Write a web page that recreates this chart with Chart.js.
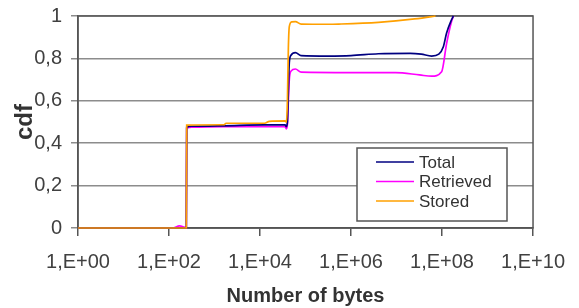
<!DOCTYPE html>
<html lang="en">
<head>
    <meta charset="UTF-8">
    <title>cdf of number of bytes</title>
    <script src="https://cdn.jsdelivr.net/npm/chart.js"></script>
    <style>
        body { margin: 0; background: #fff; }
        #wrap { width: 579px; height: 308px; position: relative; }
    </style>
</head>
<body>
    <div id="wrap"><canvas id="cdfChart"></canvas></div>

    <script>
        // x values in bytes, y values are cdf
        const totalX = [1, 200, 240, 245, 320, 1600, 12600, 35500, 38000, 40000, 42000, 44000, 48000, 60000, 80000, 316000, 1e6, 4e6, 2e7, 3.5e7, 5.9e7, 8.5e7, 1.07e8, 1.26e8, 1.6e8, 1.78e8];
        const totalY = [0, 0, 0, 0.475, 0.48, 0.482, 0.486, 0.486, 0.478, 0.5, 0.65, 0.78, 0.815, 0.827, 0.813, 0.811, 0.813, 0.822, 0.824, 0.82, 0.811, 0.82, 0.855, 0.92, 0.98, 1.0];

        const retrievedX = [1, 120, 170, 215, 240, 245, 320, 1600, 35500, 38000, 40000, 42000, 44000, 48000, 60000, 80000, 1e6, 9.5e6, 3.2e7, 5.9e7, 9.8e7, 1.26e8, 1.6e8, 1.78e8];
        const retrievedY = [0, 0, 0.01, 0.004, 0, 0.47, 0.476, 0.478, 0.478, 0.468, 0.49, 0.6, 0.7, 0.74, 0.75, 0.735, 0.733, 0.733, 0.722, 0.716, 0.737, 0.87, 0.97, 1.0];

        const storedX = [1, 240, 245, 1600, 1800, 12600, 16000, 35500, 38000, 40000, 42000, 44000, 50000, 60000, 80000, 316000, 540000, 4e6, 2.5e7, 5.9e7, 7.2e7];
        const storedY = [0, 0, 0.485, 0.487, 0.494, 0.494, 0.503, 0.505, 0.498, 0.6, 0.85, 0.95, 0.972, 0.973, 0.962, 0.961, 0.962, 0.970, 0.986, 0.997, 1.0];

        const seriesNames = ['Total', 'Retrieved', 'Stored'];
        const seriesColors = ['#000080', '#ff00ff', '#ffa000'];
        const xTicks = [1, 1e2, 1e4, 1e6, 1e8, 1e10];
        const yTicks = [0, 0.2, 0.4, 0.6, 0.8, 1];

        function pairs(xs, ys) {
            return xs.map((x, i) => ({ x: x, y: ys[i] }));
        }

        // box round the plot area
        const frame = {
            id: 'frame',
            beforeDatasetsDraw(chart) {
                const a = chart.chartArea, c = chart.ctx;
                c.save();
                c.strokeStyle = '#555';
                c.lineWidth = 1.5;
                c.strokeRect(a.left, a.top, a.right - a.left, a.bottom - a.top);
                c.restore();
            }
        };

        // legend drawn inside the plot, lower right
        const boxLegend = {
            id: 'boxLegend',
            afterDraw(chart) {
                const c = chart.ctx;
                const x0 = 357, y0 = 148, w = 150, h = 73;
                c.save();
                c.fillStyle = '#fff';
                c.fillRect(x0, y0, w, h);
                c.strokeStyle = '#555';
                c.lineWidth = 1.5;
                c.strokeRect(x0, y0, w, h);
                c.font = '17px "Liberation Sans", Arial, sans-serif';
                c.textBaseline = 'middle';
                seriesNames.forEach((name, i) => {
                    const y = y0 + 14 + i * 19.5;
                    c.strokeStyle = seriesColors[i];
                    c.lineWidth = 1.5;
                    c.beginPath();
                    c.moveTo(376, y);
                    c.lineTo(414, y);
                    c.stroke();
                    c.fillStyle = '#333';
                    c.fillText(name, 419, y + 1);
                });
                c.restore();
            }
        };

        const ctx = document.getElementById('cdfChart').getContext('2d');
        new Chart(ctx, {
            type: 'line',
            data: {
                datasets: [
                    { label: seriesNames[0], data: pairs(totalX, totalY), borderColor: seriesColors[0], order: 1, clip: 4 },
                    { label: seriesNames[1], data: pairs(retrievedX, retrievedY), borderColor: seriesColors[1], order: 2, clip: 4 },
                    { label: seriesNames[2], data: pairs(storedX, storedY), borderColor: seriesColors[2], order: 0, clip: 4 }
                ]
            },
            options: {
                responsive: true,
                maintainAspectRatio: false,
                animation: false,
                layout: { padding: { top: 16, right: 44, left: 0, bottom: 0 } },
                elements: {
                    point: { radius: 0 },
                    line: { borderWidth: 1.7, cubicInterpolationMode: 'monotone', fill: false }
                },
                plugins: { legend: { display: false }, tooltip: { enabled: false } },
                scales: {
                    x: {
                        type: 'logarithmic',
                        min: 1,
                        max: 1e10,
                        afterBuildTicks: axis => { axis.ticks = xTicks.map(v => ({ value: v })); },
                        afterFit: axis => { axis.height = 80; },
                        grid: { drawOnChartArea: false, drawTicks: true, tickLength: 8, color: '#555', lineWidth: 1.5 },
                        border: { color: '#555', width: 1.5 },
                        ticks: {
                            autoSkip: false,
                            maxRotation: 0,
                            padding: 14,
                            color: '#404040',
                            font: { family: '"Liberation Sans", Arial, sans-serif', size: 20 },
                            callback: v => '1,E+' + String(Math.round(Math.log10(v))).padStart(2, '0')
                        },
                        title: {
                            display: true,
                            text: 'Number of bytes',
                            color: '#333',
                            padding: { top: 2, bottom: 0 },
                            font: { family: '"Liberation Sans", Arial, sans-serif', size: 20, weight: 'bold' }
                        }
                    },
                    y: {
                        min: 0,
                        max: 1,
                        afterBuildTicks: axis => { axis.ticks = yTicks.map(v => ({ value: v })); },
                        afterFit: axis => { axis.width = 78; axis.paddingTop = 0; axis.paddingBottom = 0; },
                        grid: { color: '#8c8c8c', lineWidth: 1.5, tickLength: 7 },
                        border: { color: '#555', width: 1.5 },
                        ticks: {
                            padding: 9,
                            color: '#404040',
                            font: { family: '"Liberation Sans", Arial, sans-serif', size: 20 },
                            callback: v => String(Math.round(v * 10) / 10).replace('.', ',')
                        },
                        title: {
                            display: true,
                            text: 'cdf',
                            color: '#333',
                            padding: { top: 11, bottom: 0 },
                            font: { family: '"Liberation Sans", Arial, sans-serif', size: 24, weight: 'bold' }
                        }
                    }
                }
            },
            plugins: [frame, boxLegend]
        });
    </script>
</body>
</html>
